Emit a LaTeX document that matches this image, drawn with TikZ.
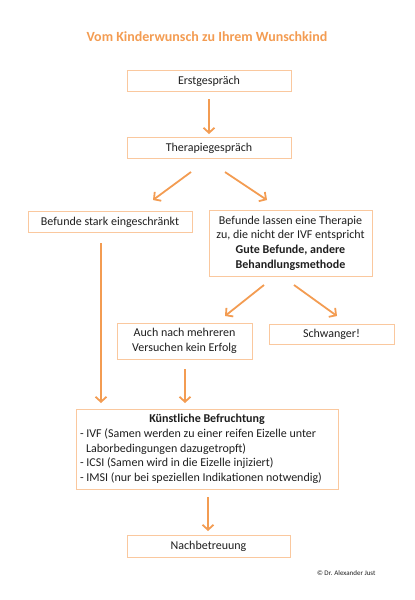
\documentclass[tikz,border=0pt]{standalone}
\usepackage{fontspec}
\setmainfont{Carlito}
\usetikzlibrary{arrows.meta}
\definecolor{ora}{RGB}{243,156,82}
\definecolor{boxo}{RGB}{250,200,158}
\definecolor{txt}{RGB}{30,30,30}
\tikzset{
  box/.style={draw=boxo, line width=0.9pt, inner sep=0pt, text=txt, font=\fontsize{12}{14.6}\selectfont},
  arr/.style={draw=ora, line width=1.8pt, -{Straight Barb[length=5pt,width=11pt,line width=1.8pt]}},
}
\begin{document}
\begin{tikzpicture}[x=1pt,y=-1pt]
\useasboundingbox (0,0) rectangle (415,600);
\node[font=\bfseries\fontsize{14}{16}\selectfont, text=ora] (title) at (207,37) {Vom Kinderwunsch zu Ihrem Wunschkind};

\node[box, minimum width=164pt, minimum height=21pt] (erst) at (209,81) {Erstgespräch};
\node[box, minimum width=164pt, minimum height=21pt] (ther) at (209,148) {Therapiegespräch};
\node[box, minimum width=164pt, minimum height=21pt] (stark) at (110,222) {Befunde stark eingeschränkt};
\node[box, minimum width=163pt, minimum height=66pt, align=center] (lassen) at (290.5,243) {Befunde lassen eine Therapie\\zu, die nicht der IVF entspricht\\\textbf{Gute Befunde, andere}\\\textbf{Behandlungsmethode}};
\node[box, minimum width=135pt, minimum height=36pt, align=center] (auch) at (184.5,341) {Auch nach mehreren\\Versuchen kein Erfolg};
\node[box, minimum width=125pt, minimum height=20pt] (schw) at (331.5,334) {Schwanger!};
\node[box, minimum width=262pt, minimum height=80pt, inner xsep=4pt, text width=254pt, align=flush left] (kb) at (207,449) {\makebox[254pt]{\textbf{Künstliche Befruchtung}}\\- IVF (Samen werden zu einer reifen Eizelle unter\\\hspace*{6pt}Laborbedingungen dazugetropft)\\- ICSI (Samen wird in die Eizelle injiziert)\\- IMSI (nur bei speziellen Indikationen notwendig)};
\node[box, minimum width=163pt, minimum height=22pt] (nach) at (208.5,546) {Nachbetreuung};
\node[font=\fontsize{7}{8}\selectfont, text=txt, anchor=east] (copy) at (379,573) {© Dr. Alexander Just};

\coordinate (a1s) at (209,99);
\coordinate (a1e) at (209,134);
\draw[arr] (a1s) -- (a1e);
\coordinate (a2s) at (191,172);
\coordinate (a2e) at (153,200);
\draw[arr] (a2s) -- (a2e);
\coordinate (a3s) at (225,172);
\coordinate (a3e) at (267,200);
\draw[arr] (a3s) -- (a3e);
\coordinate (a4s) at (264,285);
\coordinate (a4e) at (225,316);
\draw[arr] (a4s) -- (a4e);
\coordinate (a5s) at (294,285);
\coordinate (a5e) at (337,316);
\draw[arr] (a5s) -- (a5e);
\coordinate (a6s) at (101,243);
\coordinate (a6e) at (101,403);
\draw[arr] (a6s) -- (a6e);
\coordinate (a7s) at (185,369);
\coordinate (a7e) at (185,403);
\draw[arr] (a7s) -- (a7e);
\coordinate (a8s) at (208,497);
\coordinate (a8e) at (208,531);
\draw[arr] (a8s) -- (a8e);
\end{tikzpicture}
\end{document}
